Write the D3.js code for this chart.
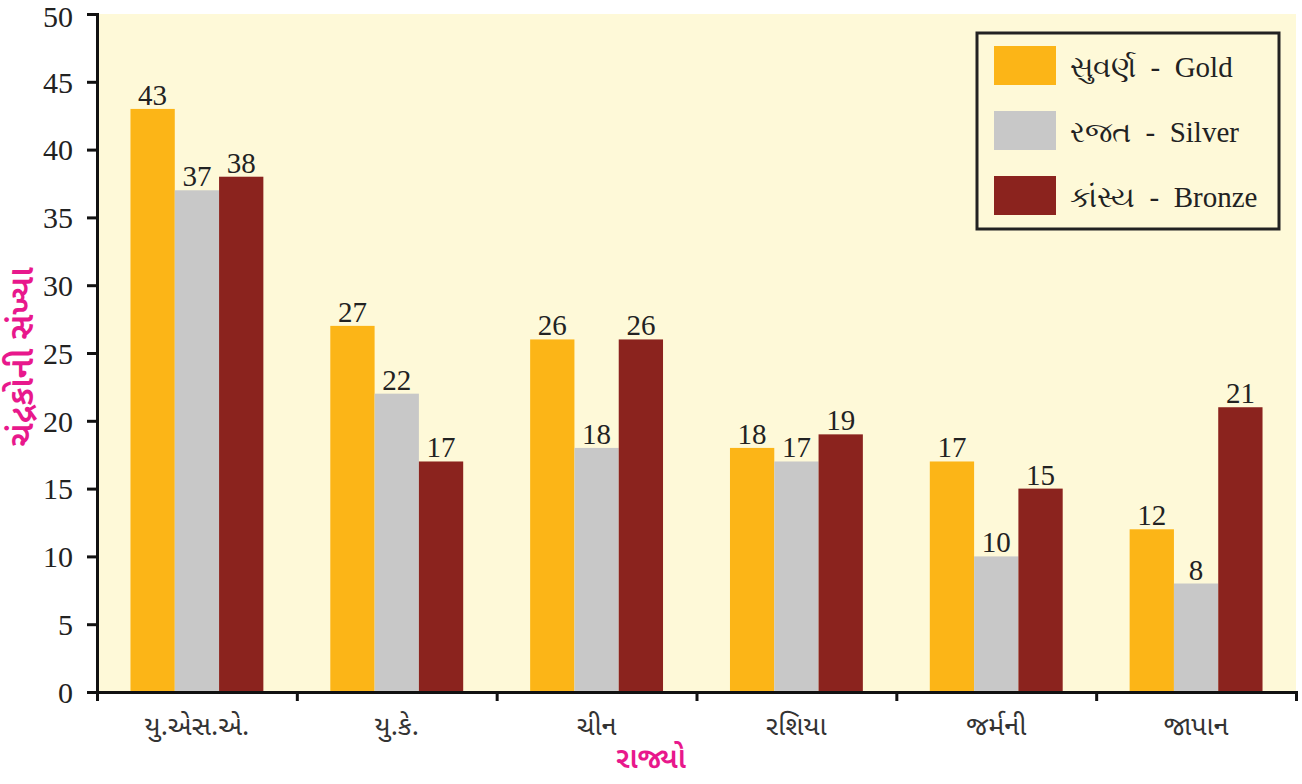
<!DOCTYPE html>
<html><head><meta charset="utf-8">
<script src="https://cdn.jsdelivr.net/npm/d3@7"></script>
<style>body{margin:0;background:#fff}svg{display:block}.sf{font-family:"Liberation Serif","Times New Roman","DejaVu Serif",serif}</style>
</head><body>
<svg id="c" width="1302" height="784"></svg>
<script>
const categories = ["યુ.એસ.એ.", "યુ.કે.", "ચીન", "રશિયા", "જર્મની", "જાપાન"];
const seriesNames = ["સુવર્ણ  -  Gold", "રજત  -  Silver", "કાંસ્ય  -  Bronze"];
const gold = [43, 27, 26, 18, 17, 12];
const silver = [37, 22, 18, 17, 10, 8];
const bronze = [38, 17, 26, 19, 15, 21];
const yTicks = [0, 5, 10, 15, 20, 25, 30, 35, 40, 45, 50];
const yTitle = "ચંદ્રકોની સંખ્યા";
const xTitle = "રાજ્યો";

const colors = ["#FCB517", "#C8C8C8", "#8B231E"];
const series = [gold, silver, bronze];
const svg = d3.select("#c");
const L = 97, R = 1296, T = 14, B = 692;
const guj = "'Noto Sans Gujarati','Noto Serif Gujarati','Noto Sans',sans-serif";

const x = d3.scaleBand().domain(categories).range([L, R]).paddingInner(0.335).paddingOuter(0.1675);
const xs = d3.scaleBand().domain([0,1,2]).range([0, x.bandwidth()]);
const y = d3.scaleLinear().domain([0, 50]).range([B, T]);

svg.append("rect").attr("x", L).attr("y", T).attr("width", R - L).attr("height", B - T).attr("fill", "#FEF9D8");

const g = svg.append("g");
categories.forEach((c, i) => {
  series.forEach((s, j) => {
    const v = s[i];
    g.append("rect").attr("x", x(c) + xs(j)).attr("y", y(v))
      .attr("width", xs.bandwidth()).attr("height", y(0) - y(v)).attr("fill", colors[j]);
    g.append("text").attr("class", "sf").attr("x", x(c) + xs(j) + xs.bandwidth()/2).attr("y", y(v) - 4)
      .attr("text-anchor", "middle").attr("font-size", 29)
      .attr("fill", "#222").text(v);
  });
});

// y axis
const ya = svg.append("g").attr("transform", `translate(${L},0)`)
  .call(d3.axisLeft(y).tickValues(yTicks).tickSize(10).tickPadding(14));
ya.attr("font-family", null);
ya.select(".domain").attr("stroke", "#111").attr("stroke-width", 3);
ya.selectAll(".tick line").attr("stroke", "#111").attr("stroke-width", 3);
ya.selectAll(".tick text").attr("class", "sf").attr("font-size", 30).attr("fill", "#222").attr("dy", "0.34em");
ya.selectAll(".tick").filter(d => d === 50).select("text").attr("dy", "0.4em");

// x axis
const xBound = d3.scalePoint().domain(d3.range(categories.length + 1)).range([L, R]);
const xa = svg.append("g").attr("transform", `translate(0,${B})`)
  .call(d3.axisBottom(xBound).tickValues(d3.range(categories.length + 1)).tickSize(9).tickFormat(""));
xa.select(".domain").attr("stroke", "#111").attr("stroke-width", 3);
xa.selectAll(".tick line").attr("stroke", "#111").attr("stroke-width", 3);
svg.append("g").selectAll("text").data(categories).join("text")
  .attr("x", d => x(d) + x.bandwidth()/2).attr("y", 735)
  .attr("text-anchor", "middle").attr("font-family", guj)
  .attr("font-size", 27).attr("fill", "#333").text(d => d);

// titles
svg.append("text").attr("transform", "translate(33,357) rotate(-90)")
  .attr("text-anchor", "middle").attr("font-family", guj)
  .attr("font-size", 34).attr("font-weight", 600).attr("fill", "#E8188C").text(yTitle);
svg.append("text").attr("x", 651).attr("y", 768)
  .attr("text-anchor", "middle").attr("font-family", guj)
  .attr("font-size", 29).attr("font-weight", 600).attr("fill", "#E8188C").text(xTitle);

// legend
const lg = svg.append("g");
lg.append("rect").attr("x", 977).attr("y", 33).attr("width", 302).attr("height", 196)
  .attr("fill", "#FEF9D8").attr("stroke", "#222").attr("stroke-width", 3);
seriesNames.forEach((n, j) => {
  const yy = 46 + j * 65;
  lg.append("rect").attr("x", 994).attr("y", yy).attr("width", 62).attr("height", 39).attr("fill", colors[j]);
  lg.append("text").attr("class", "sf").attr("x", 1070).attr("y", yy + 31)
    .attr("font-size", 29).attr("fill", "#222").style("white-space", "pre").text(n);
});
</script>
</body></html>
